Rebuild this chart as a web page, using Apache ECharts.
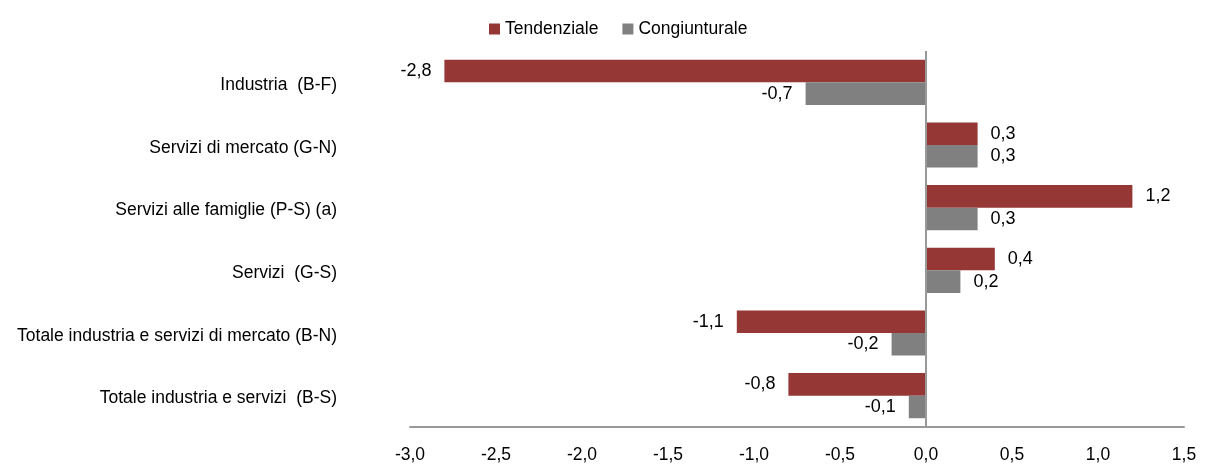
<!DOCTYPE html>
<html>
<head>
<meta charset="utf-8">
<script src="https://cdn.jsdelivr.net/npm/echarts@6/dist/echarts.min.js"></script>
<style>
  html,body{margin:0;padding:0;background:#fff;}
  #chart{width:1211px;height:466px;}
</style>
</head>
<body>
<div id="chart"></div>
<script>
// categorie, dall'alto in basso
const categories = [
  'Industria  (B-F)',
  'Servizi di mercato (G-N)',
  'Servizi alle famiglie (P-S) (a)',
  'Servizi  (G-S)',
  'Totale industria e servizi di mercato (B-N)',
  'Totale industria e servizi  (B-S)'
]
const tendenziale = [-2.8, 0.3, 1.2, 0.4, -1.1, -0.8]
const congiunturale = [-0.7, 0.3, 0.3, 0.2, -0.2, -0.1]
const xTicks = [-3.0, -2.5, -2.0, -1.5, -1.0, -0.5, 0.0, 0.5, 1.0, 1.5]

const FONT = '"Liberation Sans Narrow", "Arial Narrow", "Liberation Sans", Arial, sans-serif'
const fmt = v => v.toFixed(1).replace('.', ',')

const chart = echarts.init(document.getElementById('chart'))

// etichette a sinistra per i negativi, a destra per i positivi
function makeData(arr){
  return arr.map(v => ({
    value: v,
    label: { position: v < 0 ? 'left' : 'right' }
  }))
}

const labelStyle = {
  show: true,
  distance: 13,
  fontFamily: FONT,
  fontSize: 18,
  color: '#000',
  formatter: p => fmt(p.value)
}

chart.setOption({
  animation: false,
  legend: {
    top: 15,
    left: 484,
    icon: 'rect',
    itemWidth: 11,
    itemHeight: 11,
    itemGap: 24,
    textStyle: { fontFamily: FONT, fontSize: 17.5, color: '#000' },
    data: ['Tendenziale', 'Congiunturale']
  },
  grid: { left: 410, right: 27, top: 51, bottom: 39 },
  xAxis: {
    type: 'value',
    min: xTicks[0],
    max: xTicks[xTicks.length - 1],
    interval: 0.5,
    axisLine: { show: true, onZero: false, lineStyle: { color: '#999', width: 2 } },
    axisTick: { show: false },
    splitLine: { show: false },
    axisLabel: {
      fontFamily: FONT, fontSize: 17.5, color: '#000', margin: 19,
      formatter: v => fmt(v)
    }
  },
  yAxis: {
    type: 'category',
    inverse: true,
    data: categories,
    axisLine: { show: false },
    axisTick: { show: false },
    axisLabel: {
      margin: 73,
      formatter: v => '{c|' + v + '}',
      rich: {
        c: { fontFamily: FONT, fontSize: 17.5, color: '#000', padding: [6, 0, 0, 0] }
      }
    }
  },
  series: [
    {
      name: 'Tendenziale',
      type: 'bar',
      data: makeData(tendenziale),
      barGap: '0%',
      barCategoryGap: '28%',
      itemStyle: { color: '#953735' },
      label: labelStyle,
      markLine: {
        silent: true,
        symbol: 'none',
        label: { show: false },
        lineStyle: { color: '#999', width: 2, type: 'solid' },
        data: [{ xAxis: 0 }]
      }
    },
    {
      name: 'Congiunturale',
      type: 'bar',
      data: makeData(congiunturale),
      barGap: '0%',
      barCategoryGap: '28%',
      itemStyle: { color: '#808080' },
      label: labelStyle
    }
  ]
})
</script>
</body>
</html>
